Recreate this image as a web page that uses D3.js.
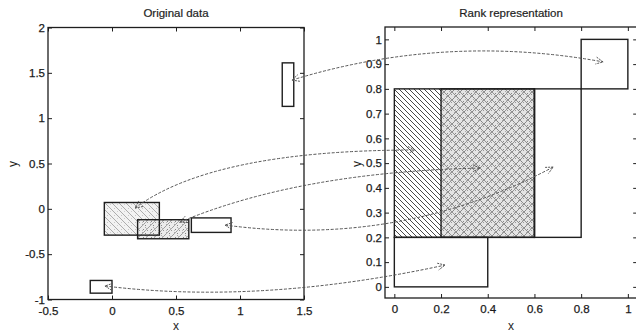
<!DOCTYPE html>
<html>
<head>
<meta charset="utf-8">
<script src="https://cdn.jsdelivr.net/npm/d3@7"></script>
<style>
  html, body { margin: 0; padding: 0; background: #fff; }
  svg { display: block; font-family: "Liberation Sans", Arial, sans-serif; }
  .tick text { font-size: 11.5px; fill: #1a1a1a; stroke: #1a1a1a; stroke-width: 0.25px; }
</style>
</head>
<body>
<script>
// Box names (shared by both panels)
const boxNames = ["A", "B", "C", "D", "E"];

// Original data: box extents
const origX0 = [-0.06, 0.20, 0.62, -0.17, 1.33];
const origX1 = [0.37, 0.60, 0.93, 0.00, 1.42];
const origY0 = [-0.29, -0.33, -0.26, -0.93, 1.13];
const origY1 = [0.07, -0.12, -0.10, -0.79, 1.61];

// Rank representation: box extents
const rankX0 = [0.0, 0.2, 0.6, 0.0, 0.8];
const rankX1 = [0.6, 0.6, 0.8, 0.4, 1.0];
const rankY0 = [0.2, 0.2, 0.2, 0.0, 0.8];
const rankY1 = [0.8, 0.8, 0.8, 0.2, 1.0];

// Link end points (original space -> rank space) and curve shape
const linkFromX = [0.18, 0.531, 0.883, -0.055, 1.406];
const linkFromY = [0.009, -0.146, -0.179, -0.851, 1.42];
const linkToX = [0.089, 0.367, 0.68, 0.217, 0.894];
const linkToY = [0.553, 0.48, 0.484, 0.088, 0.909];
const linkAlong = [0.308, 0.4165, 0.505, 0.451, 0.499];
const linkBend = [0.143, 0.092, -0.16, -0.084, 0.122];

// Tick values
const origXTicks = [-0.5, 0, 0.5, 1, 1.5];
const origYTicks = [-1, -0.5, 0, 0.5, 1, 1.5, 2];
const rankXTicks = [0, 0.2, 0.4, 0.6, 0.8, 1];
const rankYTicks = [0, 0.1, 0.2, 0.3, 0.4, 0.5, 0.6, 0.7, 0.8, 0.9, 1];

const W = 636, H = 333;
const ink = "#1e1e1e";

const svg = d3.select("body").append("svg").attr("width", W).attr("height", H);

// ---- fill patterns ----
const defs = svg.append("defs");

function hatch(id, size, paths, stroke, sw, bg, dots) {
  const p = defs.append("pattern").attr("id", id)
    .attr("patternUnits", "userSpaceOnUse").attr("width", size).attr("height", size);
  if (bg) p.append("rect").attr("width", size).attr("height", size).attr("fill", bg);
  (dots || []).forEach(d => p.append("rect").attr("x", d[0]).attr("y", d[1])
    .attr("width", 1).attr("height", 1).attr("fill", d[2]));
  p.append("path").attr("d", paths).attr("stroke", stroke).attr("stroke-width", sw).attr("fill", "none");
}
const back = s => `M0,0L${s},${s}M${-s/2},${s/2}L${s/2},${3*s/2}M${s/2},${-s/2}L${3*s/2},${s/2}`;
const fwd = s => `M0,${s}L${s},0M${-s/2},${s/2}L${s/2},${-s/2}M${s/2},${3*s/2}L${3*s/2},${s/2}`;

const speck = [[1,1,"#888"],[5,2,"#aaa"],[3,6,"#999"],[7,5,"#888"],[2,4,"#bbb"],[6,0,"#aaa"],
               [0,7,"#999"],[4,3,"#aaa"],[6,6,"#bbb"],[1,3,"#aaa"]];

hatch("origA", 7, back(7), "#9a9a9a", 0.8, "#f2f2f2", [[2,5,"#c8c8c8"],[5,1,"#d0d0d0"]]);
hatch("origB", 8, fwd(8), "#999", 0.8, "#ececec", speck);
hatch("rankA", 5, back(5), "#333", 0.9, null, null);
hatch("rankB", 8, back(8) + fwd(8), "#808080", 0.8, "#e4e4e4", speck);

const fillOrig = ["url(#origA)", "url(#origB)", "none", "none", "none"];
const fillRank = ["url(#rankA)", "url(#rankB)", "none", "none", "none"];

// ---- panels ----
const left = {
  x: d3.scaleLinear([-0.5, 1.5], [48, 304]),
  y: d3.scaleLinear([-1, 2], [299.5, 27.5]),
  xt: origXTicks, yt: origYTicks, title: "Original data"
};
const right = {
  x: d3.scaleLinear([-0.04, 1.04], [385, 637.2]),
  y: d3.scaleLinear([-0.045, 1.05], [298, 27]),
  xt: rankXTicks, yt: rankYTicks, title: "Rank representation"
};

function drawAxes(g, P) {
  const [x0, x1] = P.x.range(), [y0, y1] = P.y.range();
  const fmt = d => String(d);
  g.append("g").attr("transform", `translate(0,${y0})`)
    .call(d3.axisBottom(P.x).tickValues(P.xt).tickSize(-4).tickSizeOuter(0).tickPadding(7).tickFormat(fmt));
  g.append("g").attr("transform", `translate(0,${y1})`)
    .call(d3.axisTop(P.x).tickValues(P.xt).tickSize(-4).tickSizeOuter(0).tickFormat(""));
  g.append("g").attr("transform", `translate(${x0},0)`)
    .call(d3.axisLeft(P.y).tickValues(P.yt).tickSize(-4).tickSizeOuter(0).tickPadding(3).tickFormat(fmt));
  g.append("g").attr("transform", `translate(${x1},0)`)
    .call(d3.axisRight(P.y).tickValues(P.yt).tickSize(-4).tickSizeOuter(0).tickFormat(""));
  g.selectAll(".domain").remove();
  g.selectAll(".tick line").attr("stroke", ink).attr("stroke-width", 1);
  g.append("rect").attr("x", x0).attr("y", y1).attr("width", x1 - x0).attr("height", y0 - y1)
    .attr("fill", "none").attr("stroke", ink).attr("stroke-width", 1.3);
  g.append("text").attr("x", (x0 + x1) / 2).attr("y", 17).attr("text-anchor", "middle")
    .attr("font-size", 11.5).attr("fill", ink).attr("stroke", ink).attr("stroke-width", 0.2)
    .text(P.title);
  g.append("text").attr("x", (x0 + x1) / 2).attr("y", 330).attr("text-anchor", "middle")
    .attr("font-size", 12).attr("fill", ink).text("x");
}

function drawBoxes(g, P, X0, X1, Y0, Y1, fills) {
  const idx = d3.range(boxNames.length);
  g.selectAll("rect.fill").data(idx.filter(i => fills[i] !== "none")).join("rect")
    .attr("class", "fill")
    .attr("x", i => P.x(X0[i])).attr("y", i => P.y(Y1[i]))
    .attr("width", i => P.x(X1[i]) - P.x(X0[i])).attr("height", i => P.y(Y0[i]) - P.y(Y1[i]))
    .attr("fill", i => fills[i]);
  g.selectAll("rect.edge").data(idx).join("rect")
    .attr("class", "edge")
    .attr("x", i => P.x(X0[i])).attr("y", i => P.y(Y1[i]))
    .attr("width", i => P.x(X1[i]) - P.x(X0[i])).attr("height", i => P.y(Y0[i]) - P.y(Y1[i]))
    .attr("fill", "none").attr("stroke", ink).attr("stroke-width", 1.4);
}

const gL = svg.append("g"), gR = svg.append("g");
drawBoxes(gL, left, origX0, origX1, origY0, origY1, fillOrig);
drawBoxes(gR, right, rankX0, rankX1, rankY0, rankY1, fillRank);
drawAxes(gL, left);
drawAxes(gR, right);

// y labels (rotated)
[[13, 164], [357, 164]].forEach(([x, y]) => {
  svg.append("text").attr("transform", `translate(${x},${y}) rotate(-90)`)
    .attr("text-anchor", "middle").attr("dy", "0.35em").attr("font-size", 12).attr("fill", ink).text("y");
});

// ---- dashed links with open arrowheads at both ends ----
const gLinks = svg.append("g").attr("fill", "none").attr("stroke", "#555").attr("stroke-width", 1);
function head(tip, from) {
  const dx = tip[0] - from[0], dy = tip[1] - from[1], L = Math.hypot(dx, dy);
  const ux = dx / L, uy = dy / L, len = 8, spread = 0.45;
  const c = Math.cos(spread), s = Math.sin(spread);
  const a = [tip[0] - len * (ux * c - uy * s), tip[1] - len * (uy * c + ux * s)];
  const b = [tip[0] - len * (ux * c + uy * s), tip[1] - len * (uy * c - ux * s)];
  return `M${a[0]},${a[1]}L${tip[0]},${tip[1]}L${b[0]},${b[1]}`;
}
boxNames.forEach((n, i) => {
  const p0 = [left.x(linkFromX[i]), left.y(linkFromY[i])];
  const p1 = [right.x(linkToX[i]), right.y(linkToY[i])];
  const dx = p1[0] - p0[0], dy = p1[1] - p0[1], L = Math.hypot(dx, dy);
  const nx = dy / L, ny = -dx / L;
  const c = [p0[0] + linkAlong[i] * dx + linkBend[i] * L * nx,
             p0[1] + linkAlong[i] * dy + linkBend[i] * L * ny];
  gLinks.append("path").attr("stroke-dasharray", "3,1.6")
    .attr("d", `M${p0[0]},${p0[1]}Q${c[0]},${c[1]} ${p1[0]},${p1[1]}`);
  gLinks.append("path").attr("stroke-dasharray", "2,1").attr("d", head(p0, c) + head(p1, c));
});
</script>
</body>
</html>
